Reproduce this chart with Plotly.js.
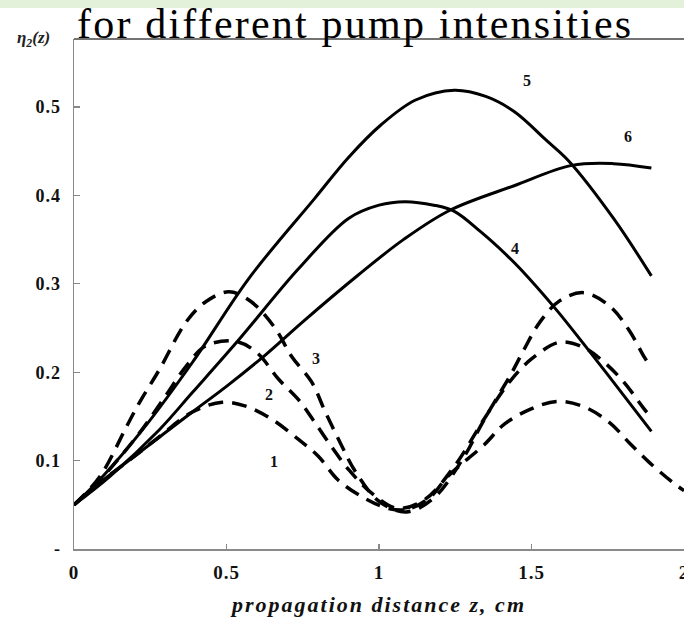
<!DOCTYPE html>
<html><head><meta charset="utf-8">
<script src="https://cdn.plot.ly/plotly-3.0.1.min.js"></script>
<style>
html,body{margin:0;padding:0;background:#fff}
#chart{width:684px;height:622px}
#chart .gtitle{letter-spacing:2.2px}
#chart .xtitle{letter-spacing:2px}
#chart .xtick text,#chart .ytick text{letter-spacing:1px}
</style>
</head><body><div id="chart"></div>
<script>
// ---- data ----
const curveNames = ['1','2','3','4','5','6'];

const z1 = [0, 0.085, 0.18, 0.28, 0.388, 0.486, 0.56, 0.648, 0.736, 0.801, 0.866, 0.95, 1.03, 1.094, 1.169, 1.225, 1.345, 1.41, 1.495, 1.583, 1.671, 1.756, 1.821, 1.886, 1.964, 2.0];
const eta1 = [0.05, 0.075, 0.1, 0.127, 0.155, 0.166, 0.162, 0.147, 0.124, 0.105, 0.078, 0.058, 0.046, 0.045, 0.059, 0.082, 0.118, 0.141, 0.158, 0.167, 0.161, 0.143, 0.12, 0.098, 0.075, 0.066];

const z2 = [0, 0.085, 0.205, 0.3, 0.368, 0.433, 0.53, 0.6, 0.671, 0.736, 0.79, 0.844, 0.9, 0.98, 1.06, 1.15, 1.25, 1.35, 1.43, 1.5, 1.593, 1.671, 1.736, 1.8, 1.866, 1.893];
const eta2 = [0.05, 0.078, 0.127, 0.173, 0.207, 0.23, 0.235, 0.222, 0.192, 0.169, 0.143, 0.116, 0.09, 0.062, 0.046, 0.056, 0.095, 0.15, 0.19, 0.215, 0.234, 0.228, 0.212, 0.19, 0.16, 0.148];

const z3 = [0, 0.085, 0.173, 0.215, 0.28, 0.368, 0.433, 0.508, 0.58, 0.661, 0.713, 0.779, 0.824, 0.876, 0.922, 1.0, 1.09, 1.18, 1.28, 1.333, 1.378, 1.43, 1.476, 1.528, 1.593, 1.671, 1.756, 1.821, 1.87, 1.893];
const eta3 = [0.05, 0.082, 0.139, 0.166, 0.203, 0.257, 0.28, 0.291, 0.28, 0.249, 0.218, 0.189, 0.155, 0.118, 0.088, 0.054, 0.042, 0.058, 0.105, 0.139, 0.166, 0.196, 0.226, 0.257, 0.281, 0.29, 0.275, 0.247, 0.217, 0.205];

const z4 = [0, 0.117, 0.28, 0.388, 0.541, 0.736, 0.9, 1.0, 1.085, 1.18, 1.247, 1.333, 1.42, 1.463, 1.583, 1.671, 1.746, 1.893];
const eta4 = [0.05, 0.082, 0.135, 0.177, 0.237, 0.317, 0.374, 0.389, 0.393, 0.389, 0.382, 0.359, 0.332, 0.317, 0.27, 0.232, 0.199, 0.133];

const z5 = [0, 0.094, 0.225, 0.388, 0.573, 0.79, 0.9, 1.007, 1.12, 1.247, 1.35, 1.443, 1.55, 1.622, 1.769, 1.893];
const eta5 = [0.05, 0.082, 0.135, 0.211, 0.306, 0.397, 0.443, 0.48, 0.508, 0.519, 0.512, 0.495, 0.462, 0.439, 0.374, 0.309];

const z6 = [0, 0.085, 0.225, 0.388, 0.5, 0.629, 0.75, 0.932, 1.08, 1.231, 1.443, 1.632, 1.769, 1.893];
const eta6 = [0.05, 0.075, 0.112, 0.155, 0.184, 0.22, 0.257, 0.31, 0.35, 0.383, 0.411, 0.434, 0.436, 0.431];

const xTickVals = [0, 0.5, 1, 1.5, 2];
const xTickText = ['0', '0.5', '1', '1.5', '2'];
const yTickVals = [0, 0.1, 0.2, 0.3, 0.4, 0.5];
const yTickText = ['-', '0.1', '0.2', '0.3', '0.4', '0.5'];

// ---- build ----
const serif = 'Liberation Serif, Times New Roman, serif';
const xs = [z1, z2, z3, z4, z5, z6];
const ys = [eta1, eta2, eta3, eta4, eta5, eta6];
const dashed = [true, true, true, false, false, false];

const traces = xs.map((x, i) => ({
  type: 'scatter', mode: 'lines', name: curveNames[i],
  x: x, y: ys[i], cliponaxis: true,
  line: {color: '#000', width: dashed[i] ? 3.5 : 3, dash: dashed[i] ? '15px,9px' : 'solid', shape: 'spline', smoothing: 1}
}));

const lab = (t, x, y) => ({text: t, x: x, y: y, xref: 'x', yref: 'y', showarrow: false,
  font: {family: serif, size: 16, color: '#111', weight: 700}});

const layout = {
  width: 684, height: 622,
  margin: {l: 74, r: 0, t: 39, b: 73, pad: 0},
  paper_bgcolor: '#fff', plot_bgcolor: '#fff',
  showlegend: false,
  title: {text: 'for different pump intensities',
    font: {family: serif, size: 42, color: '#000'},
    x: 0.1126, xref: 'container', xanchor: 'left',
    y: 0.9625, yref: 'container', yanchor: 'middle'},
  xaxis: {range: [0, 2], tickmode: 'array', tickvals: xTickVals, ticktext: xTickText,
    ticks: 'inside', ticklen: 5, tickwidth: 1.2, tickcolor: '#888',
    showline: true, linecolor: '#8a8a8a', linewidth: 1.5,
    showgrid: false, zeroline: false, ticklabelstandoff: 6, ticklabeloverflow: 'allow',
    tickfont: {family: serif, size: 19, color: '#111', weight: 700},
    title: {text: 'propagation distance z, cm', standoff: 14,
      font: {family: serif, size: 22, color: '#111', weight: 700, style: 'italic'}}},
  yaxis: {range: [0, 0.577], tickmode: 'array', tickvals: yTickVals, ticktext: yTickText,
    ticks: 'inside', ticklen: 6, tickwidth: 1.2, tickcolor: '#888',
    showline: true, linecolor: '#8a8a8a', linewidth: 1.5,
    showgrid: false, zeroline: false, ticklabelstandoff: 8,
    tickfont: {family: serif, size: 18, color: '#111', weight: 700}},
  shapes: [
    {type: 'rect', xref: 'paper', yref: 'paper', x0: -0.1213, x1: 1.0, y0: 1.0608, y1: 1.0765,
     fillcolor: '#e3f0da', line: {width: 0}, layer: 'below'},
    {type: 'line', xref: 'paper', yref: 'paper', x0: 0, x1: 1, y0: 1, y1: 1,
     line: {color: '#444', width: 1.5}}
  ],
  annotations: [
    {text: '<b><i>η<sub>2</sub>(z)</i></b>', xref: 'paper', yref: 'paper', x: -0.0967, y: 1.0,
     xanchor: 'left', yanchor: 'middle', showarrow: false,
     font: {family: serif, size: 17, color: '#222'}},
    lab('1', 0.655, 0.099), lab('2', 0.638, 0.175), lab('3', 0.795, 0.215),
    lab('4', 1.446, 0.34), lab('5', 1.485, 0.53), lab('6', 1.818, 0.467)
  ]
};

Plotly.newPlot('chart', traces, layout, {displayModeBar: false, staticPlot: true});
</script>
</body></html>
